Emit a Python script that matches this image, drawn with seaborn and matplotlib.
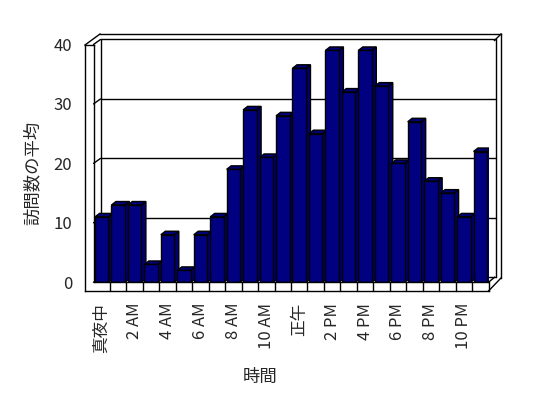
import numpy as np
import pandas as pd
import matplotlib
matplotlib.use('Agg')
from matplotlib import pyplot as plt
from matplotlib.patches import Polygon
import seaborn as sns

# data
hours = list(range(24))
visits = [11, 13, 13, 3, 8, 2, 8, 11, 19, 29, 21, 28,
          36, 25, 39, 32, 39, 33, 20, 27, 17, 15, 11, 22]
tick_pos = [0, 2, 4, 6, 8, 10, 12, 14, 16, 18, 20, 22]
tick_labels = ['真夜中', '2 AM', '4 AM', '6 AM', '8 AM', '10 AM',
               '正午', '2 PM', '4 PM', '6 PM', '8 PM', '10 PM']
y_ticks = [0, 10, 20, 30, 40]

sns.set_style('white')
plt.rcParams['font.family'] = ['Noto Sans CJK JP', 'DejaVu Sans']

W, H = 548, 398
fig = plt.figure(figsize=(W / 100, H / 100), dpi=100)

# frame layer in pixel coords
bg = fig.add_axes([0, 0, 1, 1], zorder=0)
bg.set_xlim(0, W)
bg.set_ylim(H, 0)
bg.axis('off')

# front plane of the plot
x0p, x1p, y0p, y1p = 93.5, 488.5, 282.3, 44.5
ax = fig.add_axes([x0p / W, 1 - y0p / H, (x1p - x0p) / W, (y0p - y1p) / H], zorder=1)
ax.patch.set_alpha(0)

df = pd.DataFrame({'hour': hours, 'visits': visits})
sns.barplot(data=df, x='hour', y='visits', color='#000080', saturation=1,
            width=0.82, edgecolor='black', linewidth=1, ax=ax, zorder=2)
ax.set_xlim(-0.5, 23.5)
ax.set_ylim(0, 40)

pxx = (x1p - x0p) / 24.0
pxy = (y0p - y1p) / 40.0
bdx, bdy = 4.5 / pxx, 3.5 / pxy      # bar depth
wdx, wdy = 7.0 / pxx, 5.0 / pxy      # back wall offset

# 3d faces of the bars
for p in ax.patches:
    xa = p.get_x()
    xb = xa + p.get_width()
    h = p.get_height()
    side = Polygon([(xb, 0), (xb, h), (xb + bdx, h + bdy), (xb + bdx, bdy)],
                   closed=True, facecolor='#000070', edgecolor='black', lw=1, zorder=1.5)
    top = Polygon([(xa, h), (xb, h), (xb + bdx, h + bdy), (xa + bdx, h + bdy)],
                  closed=True, facecolor='#000078', edgecolor='black', lw=1, zorder=1.5)
    ax.add_patch(side)
    ax.add_patch(top)

# back wall gridlines and left wall diagonals
for v in y_ticks:
    ax.plot([-0.5 + wdx, 23.5 + wdx], [v + wdy, v + wdy], color='black', lw=1,
            zorder=0.5, clip_on=False)
    ax.plot([-0.5, -0.5 + wdx], [v, v + wdy], color='black', lw=1, zorder=0.5, clip_on=False)
ax.plot([-0.5 + wdx, -0.5 + wdx], [wdy, 40 + wdy], color='black', lw=1, zorder=0.5, clip_on=False)
ax.plot([23.5 + wdx, 23.5 + wdx], [wdy, 40 + wdy], color='black', lw=1, zorder=0.5, clip_on=False)

# floor front face with category dividers
fl = -(291 - y0p) / pxy
for k in range(24):
    ax.plot([k + 0.5, k + 0.5], [0, fl], color='black', lw=1, clip_on=False, zorder=3)
ax.plot([-0.5, 23.5], [0, 0], color='black', lw=1, clip_on=False, zorder=3)

# outer frame
lines = [
    [(85, 45), (85, 291)], [(93.5, 45), (93.5, 282.3)], [(85, 45), (93.5, 45)],
    [(85, 45), (100, 34)], [(100, 34), (501, 34)], [(501, 34), (501, 278)],
    [(494.5, 40.5), (501, 34)], [(85, 291), (488.5, 291)],
    [(488.5, 291), (501, 278)], [(488.5, 282.3), (494.5, 277.3)],
]
for seg in lines:
    xs, ys = zip(*seg)
    bg.plot(xs, ys, color='black', lw=1, solid_capstyle='projecting')

for s in ax.spines.values():
    s.set_visible(False)
ax.spines['left'].set_position(('outward', 8.5 * 0.72))
ax.set_yticks(y_ticks)
ax.tick_params(axis='y', direction='out', length=3.6, width=1, color='black',
               pad=5.5, labelsize=12)
ax.set_xticks(tick_pos)
ax.set_xticklabels(tick_labels, rotation=90, va='top', ha='center')
ax.tick_params(axis='x', length=0, pad=14.9, labelsize=12)
ax.set_xlabel('')
ax.set_ylabel('')

fig.text(33 / W, 1 - 173 / H, '訪問数の平均', rotation=90, ha='center', va='center', fontsize=12.5)
fig.text(260 / W, 1 - 377 / H, '時間', ha='center', va='center', fontsize=12.5)

fig.savefig('out.png', dpi=100)
